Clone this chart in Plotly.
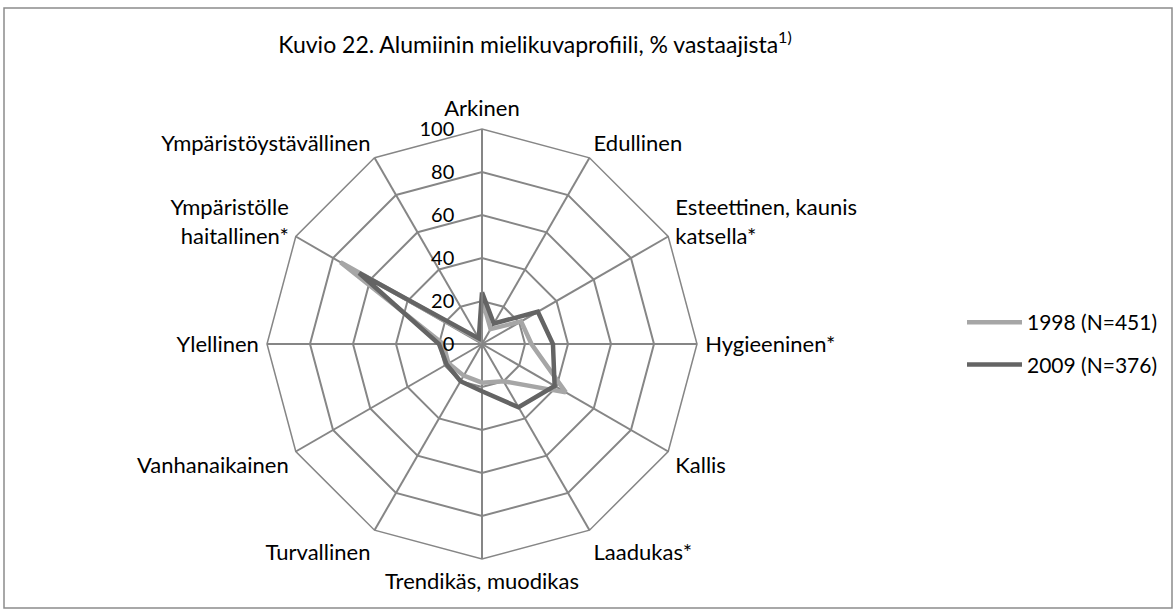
import plotly.graph_objects as go

categories = ["Arkinen", "Edullinen", "Esteettinen, kaunis<br>katsella*", "Hygieeninen*",
              "Kallis", "Laadukas*", "Trendikäs, muodikas", "Turvallinen",
              "Vanhanaikainen", "Ylellinen", "Ympäristölle<br>haitallinen*",
              "Ympäristöystävällinen"]
values_1998 = [21, 8, 21, 23, 45, 20, 18, 17, 18, 18, 76, 2]
values_2009 = [24, 11, 30, 33, 39, 34, 22, 20, 19, 20, 66, 3]
series_names = ["1998 (N=451)", "2009 (N=376)"]
radial_ticks = [0, 20, 40, 60, 80, 100]

W, H = 1176, 616
cx, cy, R = 482, 344, 215
FONT = "Lato, Open Sans, sans-serif"

fig = go.Figure()
for i, (name, vals, col) in enumerate([(series_names[0], values_1998, "#A6A6A6"),
                                       (series_names[1], values_2009, "#646464")]):
    fig.add_trace(go.Scatterpolar(
        r=vals + vals[:1], theta=categories + categories[:1],
        mode="lines", name=name, legendgroup=f"g{i}",
        line=dict(color=col, width=4.5),
    ))

fig.update_layout(
    width=W, height=H,
    margin=dict(l=0, r=0, t=0, b=0),
    paper_bgcolor="white",
    font=dict(family=FONT, size=21, color="#000000"),
    title=dict(text="Kuvio 22. Alumiinin mielikuvaprofiili, % vastaajista<sup>1)</sup>",
               x=535 / W, xanchor="center", y=1 - 45 / H, yanchor="middle",
               font=dict(size=23, family=FONT, color="#000000")),
    polar=dict(
        domain=dict(x=[(cx - R) / W, (cx + R) / W], y=[(H - cy - R) / H, (H - cy + R) / H]),
        gridshape="linear",
        bgcolor="white",
        angularaxis=dict(direction="clockwise", rotation=90, type="category",
                         linecolor="#868686", linewidth=1.5,
                         gridcolor="#868686", gridwidth=1.5,
                         showticklabels=True, ticks="outside", ticklen=3,
                         tickcolor="rgba(0,0,0,0)",
                         tickfont=dict(size=22, family=FONT)),
        radialaxis=dict(range=[0, 100], tickvals=radial_ticks, angle=90,
                        side="counterclockwise", tickangle=90,
                        showline=True, linecolor="#868686", linewidth=1.5,
                        gridcolor="#868686", gridwidth=1.5,
                        ticks="outside", ticklen=20, tickcolor="rgba(0,0,0,0)",
                        tickfont=dict(size=20, family=FONT)),
    ),
    legend=dict(x=962 / W, y=1 - 302 / H, xanchor="left", yanchor="top",
                font=dict(size=21, family=FONT), bgcolor="rgba(0,0,0,0)",
                traceorder="grouped", tracegroupgap=12, itemwidth=55),
    shapes=[dict(type="rect", xref="paper", yref="paper",
                 x0=4 / W, x1=1172 / W, y0=1 - 608 / H, y1=1 - 8 / H,
                 line=dict(color="#8C8C8C", width=1.5))],
    showlegend=True,
)

fig.write_html("out.html", config={"displayModeBar": False},
               post_script="document.body.style.margin='0';document.body.style.overflow='hidden';")
